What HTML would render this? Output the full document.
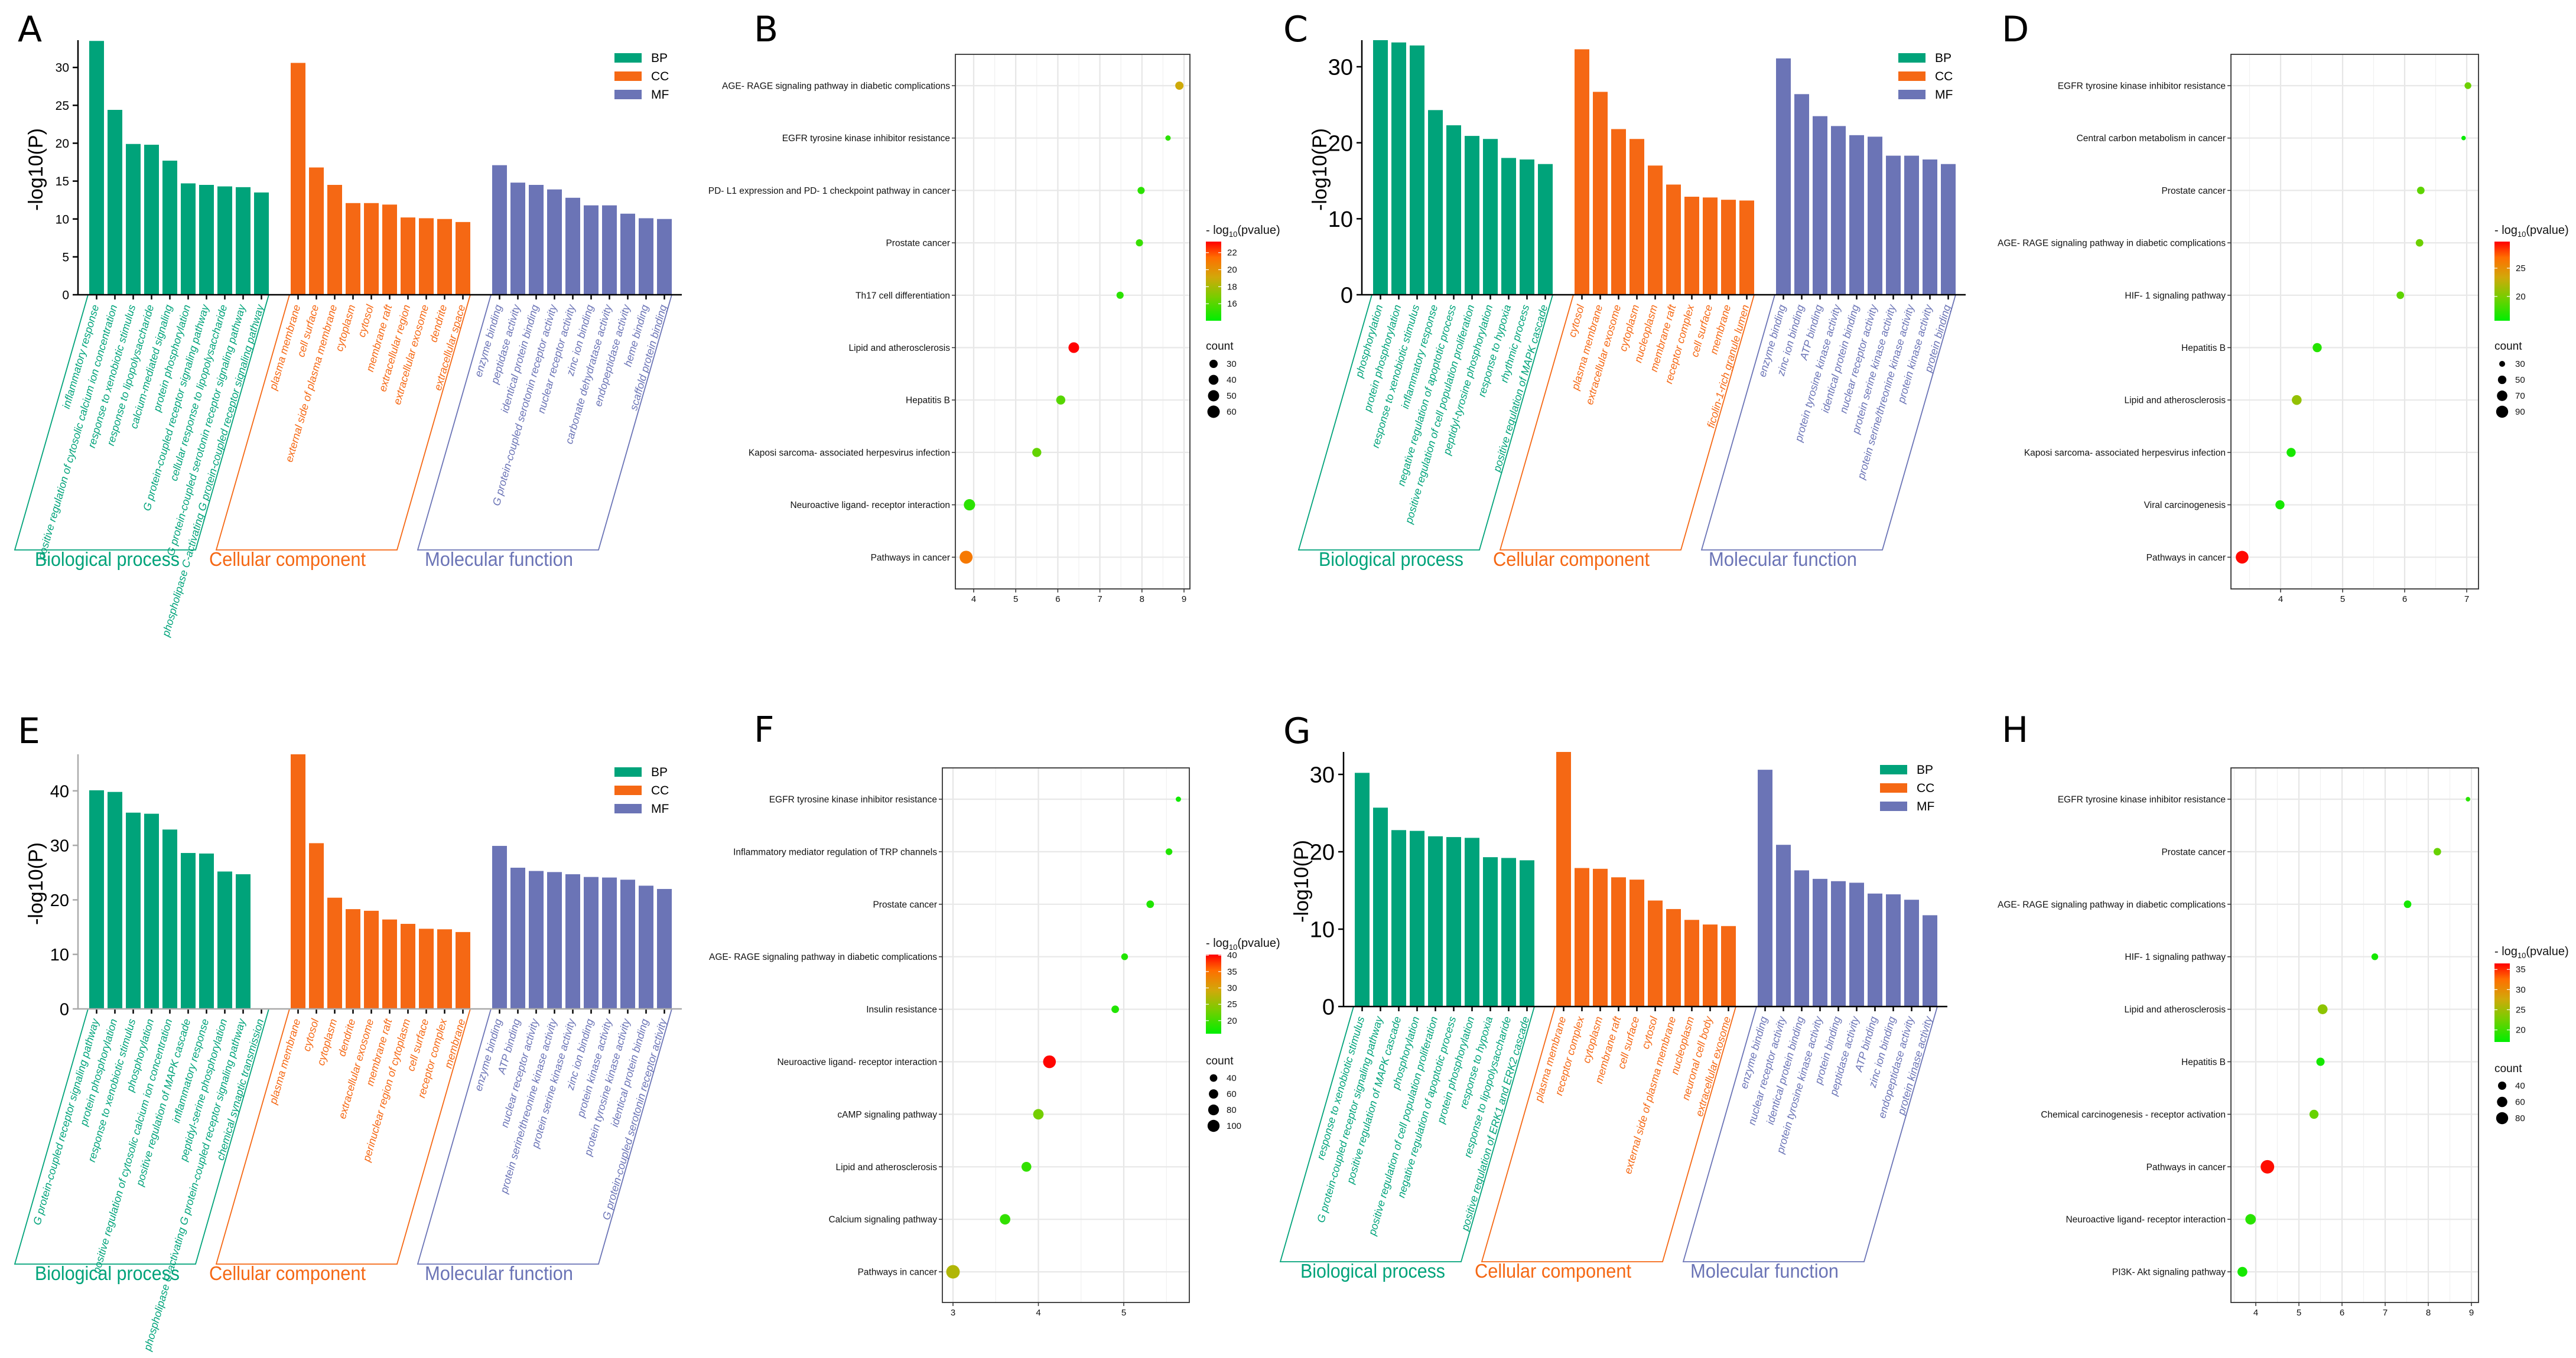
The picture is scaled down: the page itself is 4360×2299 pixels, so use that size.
<!DOCTYPE html>
<html><head><meta charset="utf-8"><style>
html,body{margin:0;padding:0;background:#fff;overflow:hidden;}
svg{display:block;}
</style></head><body>
<svg id="fig" xmlns="http://www.w3.org/2000/svg" width="4360" height="2299" viewBox="0 0 4360 2299" font-family="Liberation Sans, Arial, sans-serif" overflow="hidden"></svg>
<script>
// ===== Bar chart data (GO enrichment, -log10(P)) =====
const aBP=[33.5,24.4,19.9,19.8,17.7,14.7,14.5,14.3,14.2,13.5];
const aCC=[30.6,16.8,14.5,12.1,12.1,11.9,10.2,10.1,10.0,9.6];
const aMF=[17.1,14.8,14.5,13.9,12.8,11.8,11.8,10.7,10.1,10.0];
const aBPLabels=["inflammatory response","positive regulation of cytosolic calcium ion concentration","response to xenobiotic stimulus","response to lipopolysaccharide","calcium-mediated signaling","protein phosphorylation","G protein-coupled receptor signaling pathway","cellular response to lipopolysaccharide","G protein-coupled serotonin receptor signaling pathway","phospholipase C-activating G protein-coupled receptor signaling pathway"];
const aCCLabels=["plasma membrane","cell surface","external side of plasma membrane","cytoplasm","cytosol","membrane raft","extracellular region","extracellular exosome","dendrite","extracellular space"];
const aMFLabels=["enzyme binding","peptidase activity","identical protein binding","G protein-coupled serotonin receptor activity","nuclear receptor activity","zinc ion binding","carbonate dehydratase activity","endopeptidase activity","heme binding","scaffold protein binding"];
const aTicks=[0,5,10,15,20,25,30];

const cBP=[33.5,33.2,32.8,24.3,22.3,20.9,20.5,18.0,17.8,17.2];
const cCC=[32.3,26.7,21.8,20.5,17.0,14.5,12.9,12.8,12.5,12.4];
const cMF=[31.1,26.4,23.5,22.2,21.0,20.8,18.3,18.3,17.8,17.2];
const cBPLabels=["phosphorylation","protein phosphorylation","response to xenobiotic stimulus","inflammatory response","negative regulation of apoptotic process","positive regulation of cell population proliferation","peptidyl-tyrosine phosphorylation","response to hypoxia","rhythmic process","positive regulation of MAPK cascade"];
const cCCLabels=["cytosol","plasma membrane","extracellular exosome","cytoplasm","nucleoplasm","membrane raft","receptor complex","cell surface","membrane","ficolin-1-rich granule lumen"];
const cMFLabels=["enzyme binding","zinc ion binding","ATP binding","protein tyrosine kinase activity","identical protein binding","nuclear receptor activity","protein serine kinase activity","protein serine/threonine kinase activity","protein kinase activity","protein binding"];
const cTicks=[0,10,20,30];

const eBP=[40.1,39.8,36.0,35.8,32.9,28.6,28.5,25.2,24.7,null];
const eCC=[46.7,30.4,20.4,18.3,18.0,16.4,15.6,14.7,14.6,14.1];
const eMF=[29.9,25.9,25.3,25.1,24.7,24.2,24.1,23.7,22.6,22.0];
const eBPLabels=["G protein-coupled receptor signaling pathway","protein phosphorylation","response to xenobiotic stimulus","phosphorylation","positive regulation of cytosolic calcium ion concentration","positive regulation of MAPK cascade","inflammatory response","peptidyl-serine phosphorylation","phospholipase C-activating G protein-coupled receptor signaling pathway","chemical synaptic transmission"];
const eCCLabels=["plasma membrane","cytosol","cytoplasm","dendrite","extracellular exosome","membrane raft","perinuclear region of cytoplasm","cell surface","receptor complex","membrane"];
const eMFLabels=["enzyme binding","ATP binding","nuclear receptor activity","protein serine/threonine kinase activity","protein serine kinase activity","zinc ion binding","protein kinase activity","protein tyrosine kinase activity","identical protein binding","G protein-coupled serotonin receptor activity"];
const eTicks=[0,10,20,30,40];

const gBP=[30.2,25.7,22.8,22.7,22.0,21.9,21.8,19.3,19.2,18.9];
const gCC=[32.9,17.9,17.8,16.7,16.4,13.7,12.6,11.2,10.6,10.4];
const gMF=[30.6,20.9,17.6,16.5,16.2,16.0,14.6,14.5,13.8,11.8];
const gBPLabels=["response to xenobiotic stimulus","G protein-coupled receptor signaling pathway","positive regulation of MAPK cascade","phosphorylation","positive regulation of cell population proliferation","negative regulation of apoptotic process","protein phosphorylation","response to hypoxia","response to lipopolysaccharide","positive regulation of ERK1 and ERK2 cascade"];
const gCCLabels=["plasma membrane","receptor complex","cytoplasm","membrane raft","cell surface","cytosol","external side of plasma membrane","nucleoplasm","neuronal cell body","extracellular exosome"];
const gMFLabels=["enzyme binding","nuclear receptor activity","identical protein binding","protein tyrosine kinase activity","protein binding","peptidase activity","ATP binding","zinc ion binding","endopeptidase activity","protein kinase activity"];
const gTicks=[0,10,20,30];

// ===== Dot plot data (KEGG) =====
const bTerms=["AGE- RAGE signaling pathway in diabetic complications","EGFR tyrosine kinase inhibitor resistance","PD- L1 expression and PD- 1 checkpoint pathway in cancer","Prostate cancer","Th17 cell differentiation","Lipid and atherosclerosis","Hepatitis B","Kaposi sarcoma- associated herpesvirus infection","Neuroactive ligand- receptor interaction","Pathways in cancer"];
const bX=[8.89,8.62,7.98,7.94,7.48,6.38,6.07,5.5,3.9,3.82];
const bP=[19,15,15,15.3,15,23.3,16,16.3,15,21];
const bCount=[30,16,24,24,24,46,35,35,51,65];
const bXTicks=[4,5,6,7,8,9];
const bCbTicks=[16,18,20,22];
const bCountTicks=[30,40,50,60];

const dTerms=["EGFR tyrosine kinase inhibitor resistance","Central carbon metabolism in cancer","Prostate cancer","AGE- RAGE signaling pathway in diabetic complications","HIF- 1 signaling pathway","Hepatitis B","Lipid and atherosclerosis","Kaposi sarcoma- associated herpesvirus infection","Viral carcinogenesis","Pathways in cancer"];
const dX=[7.02,6.95,6.26,6.24,5.93,4.59,4.26,4.17,3.99,3.38];
const dP=[19.5,16,19,19.5,19,17,21,16.5,16.5,29.5];
const dCount=[36,22,42,42,42,56,63,56,56,99];
const dXTicks=[4,5,6,7];
const dCbTicks=[20,25];
const dCountTicks=[30,50,70,90];

const fTerms=["EGFR tyrosine kinase inhibitor resistance","Inflammatory mediator regulation of TRP channels","Prostate cancer","AGE- RAGE signaling pathway in diabetic complications","Insulin resistance","Neuroactive ligand- receptor interaction","cAMP signaling pathway","Lipid and atherosclerosis","Calcium signaling pathway","Pathways in cancer"];
const fX=[5.64,5.53,5.31,5.01,4.9,4.13,4.0,3.86,3.61,3.0];
const fP=[17,18,18,18,18,40,23,19,19,27];
const fCount=[20,32,40,32,40,112,76,67,76,126];
const fXTicks=[3,4,5];
const fCbTicks=[20,25,30,35,40];
const fCountTicks=[40,60,80,100];

const hTerms=["EGFR tyrosine kinase inhibitor resistance","Prostate cancer","AGE- RAGE signaling pathway in diabetic complications","HIF- 1 signaling pathway","Lipid and atherosclerosis","Hepatitis B","Chemical carcinogenesis -  receptor activation","Pathways in cancer","Neuroactive ligand- receptor interaction","PI3K- Akt signaling pathway"];
const hX=[8.92,8.21,7.52,6.76,5.55,5.5,5.35,4.27,3.88,3.69];
const hP=[19,22,18,18,24,18,22,36,19,18];
const hCount=[15,34,34,28,55,40,47,100,62,55];
const hXTicks=[4,5,6,7,8,9];
const hCbTicks=[20,25,30,35];
const hCountTicks=[40,60,80];

// ===== helpers =====
const NS="http://www.w3.org/2000/svg";
const svg=document.getElementById('fig');
function mk(tag,attrs,parent,text){
  const e=document.createElementNS(NS,tag);
  for(const k in attrs) e.setAttribute(k,attrs[k]);
  if(text!==undefined) e.textContent=text;
  (parent||svg).appendChild(e);
  return e;
}
const COL={BP:"#00a37a",CC:"#f56814",MF:"#6b74b6"};
const GRAD=[[0,[0,238,0]],[0.3,[120,205,0]],[0.55,[210,168,10]],[0.8,[255,110,0]],[1,[255,0,0]]];
function gradColor(t){
  t=Math.max(0,Math.min(1,t));
  for(let i=1;i<GRAD.length;i++){
    if(t<=GRAD[i][0]){
      const a=GRAD[i-1],b=GRAD[i];const f=(t-a[0])/(b[0]-a[0]);
      const c=a[1].map((v,j)=>Math.round(v+(b[1][j]-v)*f));
      return `rgb(${c[0]},${c[1]},${c[2]})`;
    }
  }
  return "rgb(255,0,0)";
}
function letter(ch,x,y,size){
  const t=mk('text',{x:x,y:y,'font-size':size,'font-family':'DejaVu Sans, Liberation Sans, sans-serif',fill:'#000'},svg,ch);
  
  
}

// ===== bar chart panel =====
function barPanel(c){
  const g=mk('g',{});
  
  
  const ox=c.ox,y0=c.y0,H=431,scale=H/c.max;
  const yv=v=>y0-v*scale;
  const slotX=s=>ox+19+s*31;
  const axCol=c.grey?'#aaaaaa':'#000';
  const ya=mk('line',{x1:ox,y1:y0,x2:ox,y2:y0-H,stroke:axCol,'stroke-width':2.5},g);
  
  
  c.ticks.forEach(v=>{
    mk('line',{x1:ox-9,y1:yv(v),x2:ox,y2:yv(v),stroke:axCol,'stroke-width':2.5},g);
    const t=mk('text',{x:ox-15,y:yv(v)+c.tf*0.36,'font-size':c.tf,'text-anchor':'end',fill:'#000'},g,String(v));
    
    
  });
  const yt=mk('text',{x:0,y:0,'font-size':34,'text-anchor':'middle',fill:'#000',transform:`translate(${ox-60},${y0-212}) rotate(-90)`},g,'-log10(P)');
  
  
  const groups=[['BP',c.bp,c.bpL,0,'Biological process',34,245],['CC',c.cc,c.ccL,11,'Cellular component',-12,265],['MF',c.mf,c.mfL,22,'Molecular function',12,251]];
  groups.forEach(([key,vals,labs,s0,title,toff,tlen])=>{
    vals.forEach((v,i)=>{
      const x=slotX(s0+i);
      if(v!==null){
        const r=mk('rect',{x:x,y:yv(v),width:25,height:v*scale,fill:COL[key]},g);
        
        
      }
      mk('line',{x1:x+12.5,y1:y0,x2:x+12.5,y2:y0+8,stroke:'#000','stroke-width':2.5},g);
    });
    labs.forEach((l,i)=>{
      const x=slotX(s0+i)+12.5;
      const t=mk('text',{x:0,y:0,'font-size':18,'font-style':'italic','text-anchor':'end',fill:COL[key],transform:`translate(${x+4},${y0+19}) rotate(-74)`},g,l);
      
      
    });
    const xl=slotX(s0)-2, xr=slotX(s0+9)+25, sh=124, yb=y0+432;
    const p=mk('polyline',{points:`${xl},${y0} ${xl-sh},${yb} ${xr-sh},${yb} ${xr},${y0}`,fill:'none',stroke:COL[key],'stroke-width':1.8},g);
    
    
    const gt=mk('text',{x:xl-sh+toff,y:y0+459,'font-size':33,fill:COL[key],textLength:tlen,lengthAdjust:'spacingAndGlyphs'},g,title);
    
    
  });
  const xa=mk('line',{x1:ox,y1:y0,x2:ox+1022,y2:y0,stroke:axCol,'stroke-width':2.5},g);
  
  
  const lx=ox+908, ly=y0-409;
  ['BP','CC','MF'].forEach((k,i)=>{
    const sw=mk('rect',{x:lx,y:ly+i*31,width:46,height:16,fill:COL[k]},g);
    
    
    const t=mk('text',{x:lx+62,y:ly+i*31+15,'font-size':21,fill:'#000'},g,k);
    
    
  });
}

// ===== dot plot panel =====
function dotPanel(c){
  const g=mk('g',{});
  
  
  const xp=v=>c.xp0+(v-c.xv0)*c.ppu;
  const rowY=i=>c.rowTop+i*c.pitch;
  const rad=n=>Math.sqrt(Math.max(4,c.aa*n+c.ab));
  const bg=mk('rect',{x:c.left,y:c.top,width:c.right-c.left,height:c.bottom-c.top,fill:'#fff'},g);
  
  
  for(let v=c.xTicks[0]-1.5;v<=c.xTicks[c.xTicks.length-1]+1;v+=1){
    const x=xp(v); if(x>c.left&&x<c.right) mk('line',{x1:x,y1:c.top,x2:x,y2:c.bottom,stroke:'#f0f0f0','stroke-width':1.2},g);
  }
  c.xTicks.forEach(v=>{mk('line',{x1:xp(v),y1:c.top,x2:xp(v),y2:c.bottom,stroke:'#e6e6e6','stroke-width':2.2},g);});
  c.terms.forEach((t,i)=>{mk('line',{x1:c.left,y1:rowY(i),x2:c.right,y2:rowY(i),stroke:'#e8e8e8','stroke-width':2.2},g);});
  c.terms.forEach((t,i)=>{
    const ci=mk('circle',{cx:xp(c.xs[i]),cy:rowY(i),r:rad(c.counts[i]),fill:gradColor((c.pv[i]-c.lo)/(c.hi-c.lo))},g);
    
    
  });
  const bx=mk('rect',{x:c.left,y:c.top,width:c.right-c.left,height:c.bottom-c.top,fill:'none',stroke:'#333','stroke-width':1.8},g);
  
  
  c.terms.forEach((t,i)=>{
    mk('line',{x1:c.left-6,y1:rowY(i),x2:c.left,y2:rowY(i),stroke:'#333','stroke-width':1.5},g);
    const tx=mk('text',{x:c.left-9,y:rowY(i)+5.5,'font-size':15.5,'text-anchor':'end',fill:'#111'},g,t);
    
    
  });
  c.xTicks.forEach(v=>{
    mk('line',{x1:xp(v),y1:c.bottom,x2:xp(v),y2:c.bottom+6,stroke:'#333','stroke-width':1.5},g);
    const tx=mk('text',{x:xp(v),y:c.bottom+22,'font-size':15,'text-anchor':'middle',fill:'#111'},g,String(v));
    
    
  });
  const gid='grad'+c.id;
  const defs=mk('defs',{},g);
  const lg=mk('linearGradient',{id:gid,x1:0,y1:1,x2:0,y2:0},defs);
  GRAD.forEach(([o,col])=>mk('stop',{offset:o,'stop-color':`rgb(${col[0]},${col[1]},${col[2]})`},lg));
  const tt=mk('text',{x:c.legX,y:c.titleY,'font-size':20,fill:'#111'},g);
  
  
  mk('tspan',{},tt,'- log');
  mk('tspan',{'font-size':13,dy:5},tt,'10');
  mk('tspan',{dy:-5},tt,'(pvalue)');
  const cb=mk('rect',{x:c.legX,y:c.cbTop,width:26,height:c.cbBottom-c.cbTop,fill:`url(#${gid})`},g);
  
  
  const cy=v=>c.cbBottom-(v-c.lo)/(c.hi-c.lo)*(c.cbBottom-c.cbTop);
  c.cbTicks.forEach(v=>{
    mk('line',{x1:c.legX,y1:cy(v),x2:c.legX+5,y2:cy(v),stroke:'#fff','stroke-width':1.2},g);
    mk('line',{x1:c.legX+21,y1:cy(v),x2:c.legX+26,y2:cy(v),stroke:'#fff','stroke-width':1.2},g);
    const tx=mk('text',{x:c.legX+36,y:cy(v)+5,'font-size':15,fill:'#111'},g,String(v));
    
    
  });
  const ct=mk('text',{x:c.legX,y:c.countTitleY+7,'font-size':19,fill:'#111'},g,'count');
  
  
  c.countTicks.forEach((n,i)=>{
    const y=c.countY0+i*c.countStep;
    const ci=mk('circle',{cx:c.legX+13,cy:y,r:rad(n),fill:'#000'},g);
    
    
    const tx=mk('text',{x:c.legX+35,y:y+5,'font-size':15,fill:'#111'},g,String(n));
    
    
  });
}

// ===== panels =====
letter('A',30,70,60); letter('B',1276,70,60); letter('C',2172,70,60); letter('D',3388,70,60);
letter('E',30,1258,60); letter('F',1276,1256,60); letter('G',2172,1258,60); letter('H',3388,1256,60);

barPanel({id:'a',ox:132,y0:499,max:33.6,ticks:aTicks,tf:21,bp:aBP,cc:aCC,mf:aMF,bpL:aBPLabels,ccL:aCCLabels,mfL:aMFLabels});
barPanel({id:'c',ox:2305,y0:499,max:33.5,ticks:cTicks,tf:38,bp:cBP,cc:cCC,mf:cMF,bpL:cBPLabels,ccL:cCCLabels,mfL:cMFLabels});
barPanel({id:'e',ox:132,y0:1708,max:46.7,ticks:eTicks,tf:29,grey:true,bp:eBP,cc:eCC,mf:eMF,bpL:eBPLabels,ccL:eCCLabels,mfL:eMFLabels});
barPanel({id:'g',ox:2274,y0:1704,max:32.9,ticks:gTicks,tf:38,bp:gBP,cc:gCC,mf:gMF,bpL:gBPLabels,ccL:gCCLabels,mfL:gMFLabels});

dotPanel({id:'b',left:1617,right:2014,top:92,bottom:997,rowTop:145,pitch:88.7,xv0:4,xp0:1648,ppu:71.2,xTicks:bXTicks,
  terms:bTerms,xs:bX,pv:bP,counts:bCount,lo:14,hi:23.3,cbTicks:bCbTicks,legX:2041,titleY:396,cbTop:409,cbBottom:543,
  countTitleY:585,countTicks:bCountTicks,countY0:616,countStep:27,aa:2.03,ab:-11.9});
dotPanel({id:'d',left:3776,right:4195,top:92,bottom:997,rowTop:145,pitch:88.7,xv0:4,xp0:3860,ppu:105,xTicks:dXTicks,
  terms:dTerms,xs:dX,pv:dP,counts:dCount,lo:15.7,hi:29.7,cbTicks:dCbTicks,legX:4222,titleY:396,cbTop:409,cbBottom:543,
  countTitleY:585,countTicks:dCountTicks,countY0:616,countStep:27,aa:1.32,ab:-14.6});
dotPanel({id:'f',left:1595,right:2013,top:1300,bottom:2205,rowTop:1353,pitch:88.9,xv0:3,xp0:1613,ppu:144.5,xTicks:fXTicks,
  terms:fTerms,xs:fX,pv:fP,counts:fCount,lo:16,hi:40.2,cbTicks:fCbTicks,legX:2041,titleY:1603,cbTop:1616,cbBottom:1750,
  countTitleY:1795,countTicks:fCountTicks,countY0:1825,countStep:27,aa:1.05,ab:-1});
dotPanel({id:'h',left:3776,right:4195,top:1300,bottom:2205,rowTop:1353,pitch:88.9,xv0:4,xp0:3818,ppu:73,xTicks:hXTicks,
  terms:hTerms,xs:hX,pv:hP,counts:hCount,lo:17,hi:36.5,cbTicks:hCbTicks,legX:4222,titleY:1617,cbTop:1631,cbBottom:1764,
  countTitleY:1808,countTicks:hCountTicks,countY0:1838,countStep:27.5,aa:1.375,ab:-6});
</script>
</body></html>
